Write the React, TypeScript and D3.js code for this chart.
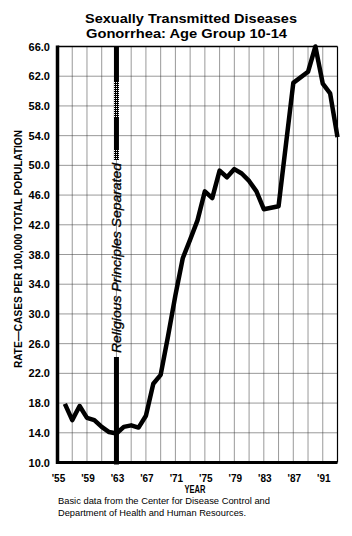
import * as d3 from 'd3';

// Gonorrhea rate, age group 10-14 (cases per 100,000)
const years = [1956, 1957, 1958, 1959, 1960, 1961, 1962, 1963, 1964, 1965, 1966, 1967, 1968, 1969, 1970, 1971, 1972, 1973, 1974, 1975, 1976, 1977, 1978, 1979, 1980, 1981, 1982, 1983, 1985, 1987, 1989, 1990, 1991, 1992, 1993];
const rates = [17.9, 15.7, 17.6, 16.0, 15.7, 14.8, 14.1, 13.9, 14.8, 15.0, 14.7, 16.3, 20.6, 21.8, 27.0, 32.5, 37.5, 40.0, 42.6, 46.5, 45.6, 49.3, 48.4, 49.5, 48.9, 47.9, 46.5, 44.1, 44.5, 61.1, 62.6, 66.0, 61.0, 59.7, 53.8];

const yTicks = [10, 14, 18, 22, 26, 30, 34, 38, 42, 46, 50, 54, 58, 62, 66];
const xTickYears = [1955, 1959, 1963, 1967, 1971, 1975, 1979, 1983, 1987, 1991];
const xTickLabels = ["'55", "'59", "'63", "'67", "'71", "'75", "'79", "'83", "'87", "'91"];
const markerYear = 1963;

const W = 352;
const H = 536;
const font = '"Liberation Sans", Arial, Helvetica, sans-serif';

export default function App() {
  const x = d3.scaleLinear().domain([1955, 1993]).range([57.5, 337.5]);
  const y = d3.scaleLinear().domain([10, 66]).range([462.5, 46.5]);

  const points = years.map((yr, i) => ({ yr, v: rates[i] }));
  const line = d3
    .line<{ yr: number; v: number }>()
    .x(d => x(d.yr))
    .y(d => y(d.v));

  const gridYears = d3.range(1957, 1993, 2);
  const mx = x(markerYear);

  return (
    <div style={{ position: 'absolute', left: 0, top: 0, background: '#fff' }}>
      <svg width={W} height={H} style={{ display: 'block', fontFamily: font }}>
        <defs>
          <pattern id="hatch" width="2" height="2" patternUnits="userSpaceOnUse">
            <rect width="2" height="2" fill="#000" />
            <rect width="1" height="1" fill="#fff" />
          </pattern>
        </defs>
        <rect width={W} height={H} fill="#fff" />

        {/* title */}
        <text x={191} y={23} textAnchor="middle" fontSize={13} fontWeight="bold" textLength={212} lengthAdjust="spacingAndGlyphs">
          Sexually Transmitted Diseases
        </text>
        <text x={186.5} y={37.5} textAnchor="middle" fontSize={13} fontWeight="bold" textLength={201} lengthAdjust="spacingAndGlyphs">
          Gonorrhea: Age Group 10-14
        </text>

        {/* grid */}
        {yTicks.slice(1, -1).map(t => (
          <line key={'gy' + t} x1={x(1955)} x2={x(1993)} y1={y(t)} y2={y(t)} stroke="#333" strokeWidth={1} strokeDasharray="1,1" />
        ))}
        {gridYears.map(g => (
          <line key={'gx' + g} x1={x(g)} x2={x(g)} y1={y(66)} y2={y(10)} stroke="#333" strokeWidth={1} strokeDasharray="1,1" />
        ))}

        {/* frame */}
        <line x1={x(1955)} x2={x(1993)} y1={y(66)} y2={y(66)} stroke="#000" strokeWidth={1.5} />
        <line x1={x(1993)} x2={x(1993)} y1={y(66)} y2={y(10)} stroke="#000" strokeWidth={1.2} />
        <line x1={x(1955)} x2={x(1993)} y1={y(10)} y2={y(10)} stroke="#000" strokeWidth={3} />
        <line x1={x(1955)} x2={x(1955)} y1={y(66) - 1} y2={y(10) + 1.5} stroke="#000" strokeWidth={3.5} />

        {/* marker: religious principles separated */}
        <rect x={mx - 2.5} y={y(66)} width={5} height={160 - y(66)} fill="#000" />
        <rect x={mx - 2.5} y={82} width={5} height={36} fill="url(#hatch)" />
        <rect x={mx - 2.5} y={150} width={5} height={10} fill="url(#hatch)" />
        <rect x={mx - 2.5} y={357} width={5} height={y(10) + 2 - 357} fill="#000" />
        <text
          transform={`translate(${mx + 4.5},${258}) rotate(-90)`}
          textAnchor="middle"
          fontSize={13.5}
          fontStyle="italic"
          stroke="#000"
          strokeWidth={0.35}
          textLength={190}
          lengthAdjust="spacingAndGlyphs"
        >
          Religious Principles Separated
        </text>

        {/* data line */}
        <path d={line(points) || ''} fill="none" stroke="#000" strokeWidth={4.5} strokeLinejoin="round" />

        {/* y ticks */}
        {yTicks.map(t => (
          <text key={'yt' + t} x={50} y={y(t) + 4} textAnchor="end" fontSize={11} fontWeight="bold">
            {t.toFixed(1)}
          </text>
        ))}
        <text
          transform={`translate(22,249) rotate(-90)`}
          textAnchor="middle"
          fontSize={10}
          fontWeight="bold"
          textLength={238}
          lengthAdjust="spacingAndGlyphs"
        >
          RATE—CASES PER 100,000 TOTAL POPULATION
        </text>

        {/* x ticks */}
        {xTickYears.map((yr, i) => (
          <text key={'xt' + yr} x={x(yr) + 1} y={482} textAnchor="middle" fontSize={10} fontWeight="bold">
            {xTickLabels[i]}
          </text>
        ))}
        <text x={195} y={493} textAnchor="middle" fontSize={10} fontWeight="bold" textLength={21} lengthAdjust="spacingAndGlyphs">
          YEAR
        </text>

        {/* source */}
        <text x={58} y={504} fontSize={9} textLength={212} lengthAdjust="spacingAndGlyphs">
          Basic data from the Center for Disease Control and
        </text>
        <text x={58} y={516} fontSize={9} textLength={188} lengthAdjust="spacingAndGlyphs">
          Department of Health and Human Resources.
        </text>
      </svg>
    </div>
  );
}
